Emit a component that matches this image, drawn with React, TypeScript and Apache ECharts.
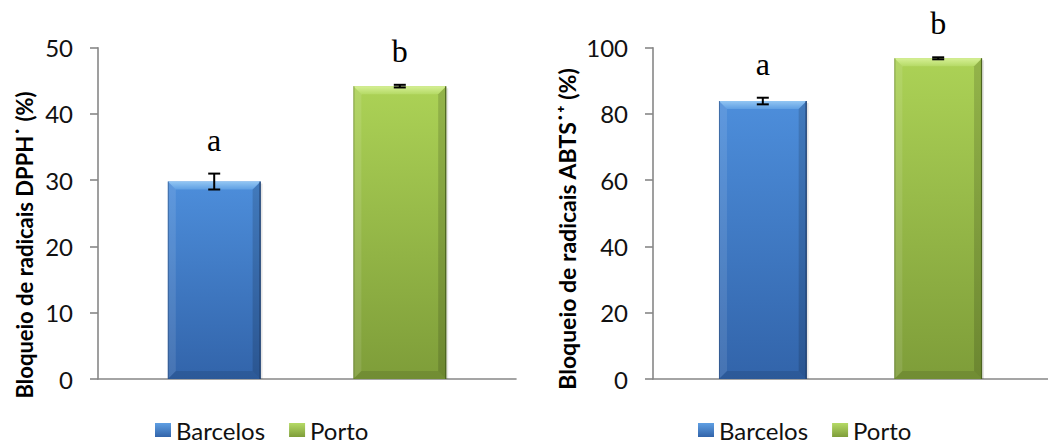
import React, { useEffect, useRef } from "react";
import * as echarts from "echarts";

// Sample origins (legend / series)
const groups = ["Barcelos", "Porto"];

// DPPH radical scavenging (%), mean and standard deviation
const dpphMean = [29.8, 44.2];
const dpphErr = [1.2, 0.2];
const dpphLetters = ["a", "b"];

// ABTS radical scavenging (%), mean and standard deviation
const abtsMean = [83.9, 96.8];
const abtsErr = [1.0, 0.3];
const abtsLetters = ["a", "b"];

// Value axis settings
const dpphAxis = { min: 0, max: 50, interval: 10 };
const abtsAxis = { min: 0, max: 100, interval: 20 };

const SANS = "Lato, 'Noto Sans', sans-serif";
const SERIF = "'Liberation Serif', 'DejaVu Serif', serif";

// Bevelled bar palettes
const palettes = [
  {
    top: "#4d8edb",
    bottom: "#3264aa",
    bevelTop: "#93c6f3",
    bevelTop2: "#5f9fe3",
    edge: "#1e3d6b",
  },
  {
    top: "#acd256",
    bottom: "#7e9d39",
    bevelTop: "#d6f095",
    bevelTop2: "#b5da66",
    edge: "#4c6420",
  },
];

const grad = (a: string, b: string) =>
  new echarts.graphic.LinearGradient(0, 0, 0, 1, [
    { offset: 0, color: a },
    { offset: 1, color: b },
  ]);

// Bar position inside the single category band, as a share of the band
const BAR_SHARE = 0.222;

function makeRenderItem(slot: number, pal: (typeof palettes)[number], letter: string) {
  return (params: any, api: any) => {
    const v = api.value(1);
    const err = api.value(2);
    const base = api.coord([0, 0]);
    const top = api.coord([0, v]);
    const hi = api.coord([0, v + err]);
    const lo = api.coord([0, v - err]);
    const band = api.size([1, 0])[0];
    const w = band * BAR_SHARE;
    const cx = base[0] + slot * band * BAR_SHARE;
    const x0 = cx - w / 2;
    const x1 = cx + w / 2;
    const yt = top[1];
    const yb = base[1];
    const d = 8;
    const cap = 6;
    return {
      type: "group",
      children: [
        {
          type: "rect",
          shape: { x: x0 + 2, y: yt + 2, width: w, height: yb - yt - 2 },
          style: { fill: "rgba(0,0,0,0.10)" },
        },
        {
          type: "rect",
          shape: { x: x0, y: yt, width: w, height: yb - yt },
          style: { fill: grad(pal.top, pal.bottom) },
        },
        {
          type: "polygon",
          shape: { points: [[x0, yt], [x1, yt], [x1 - d, yt + d], [x0 + d, yt + d]] },
          style: { fill: grad(pal.bevelTop, pal.bevelTop2) },
        },
        {
          type: "polygon",
          shape: { points: [[x0, yt], [x0 + d, yt + d], [x0 + d, yb - d], [x0, yb]] },
          style: { fill: "rgba(255,255,255,0.10)" },
        },
        {
          type: "polygon",
          shape: { points: [[x1, yt], [x1 - d, yt + d], [x1 - d, yb - d], [x1, yb]] },
          style: { fill: "rgba(0,0,0,0.14)" },
        },
        {
          type: "polygon",
          shape: { points: [[x0, yb], [x0 + d, yb - d], [x1 - d, yb - d], [x1, yb]] },
          style: { fill: "rgba(0,0,0,0.10)" },
        },
        {
          type: "line",
          shape: { x1: x0 + 0.5, y1: yt, x2: x0 + 0.5, y2: yb },
          style: { stroke: pal.edge, lineWidth: 0.8, opacity: 0.6 },
        },
        {
          type: "line",
          shape: { x1: x1 - 0.5, y1: yt, x2: x1 - 0.5, y2: yb },
          style: { stroke: pal.edge, lineWidth: 1.2 },
        },
        // error bar
        {
          type: "line",
          shape: { x1: cx, y1: hi[1], x2: cx, y2: lo[1] },
          style: { stroke: "#000", lineWidth: 2 },
        },
        {
          type: "line",
          shape: { x1: cx - cap, y1: hi[1], x2: cx + cap, y2: hi[1] },
          style: { stroke: "#000", lineWidth: 2 },
        },
        {
          type: "line",
          shape: { x1: cx - cap, y1: lo[1], x2: cx + cap, y2: lo[1] },
          style: { stroke: "#000", lineWidth: 2 },
        },
        // significance letter
        {
          type: "text",
          x: cx,
          y: hi[1] - 18,
          style: {
            text: letter,
            font: `32px ${SERIF}`,
            fill: "#000",
            align: "center",
            verticalAlign: "bottom",
          },
        },
      ],
    };
  };
}

function panelSeries(
  gridIndex: number,
  means: number[],
  errs: number[],
  letters: string[]
) {
  return groups.map((name, i) => ({
    type: "custom",
    name,
    xAxisIndex: gridIndex,
    yAxisIndex: gridIndex,
    itemStyle: { color: grad(palettes[i].bevelTop2, palettes[i].bottom) },
    renderItem: makeRenderItem(i === 0 ? -1 : 1, palettes[i], letters[i]),
    encode: { x: 0, y: [1, 2] },
    data: [[0, means[i], errs[i]]],
    clip: false,
  }));
}

const axisGrey = "#878787";

function xAxisFor(gridIndex: number) {
  return {
    type: "category",
    gridIndex,
    data: [""],
    axisLine: { show: true, lineStyle: { color: axisGrey, width: 1.6 } },
    axisTick: { show: false },
    axisLabel: { show: false },
    splitLine: { show: false },
  };
}

function yAxisFor(gridIndex: number, cfg: { min: number; max: number; interval: number }) {
  return {
    type: "value",
    gridIndex,
    min: cfg.min,
    max: cfg.max,
    interval: cfg.interval,
    axisLine: { show: true, lineStyle: { color: axisGrey, width: 1.6 } },
    axisTick: { show: true, inside: false, length: 8, lineStyle: { color: axisGrey, width: 1.6 } },
    axisLabel: { margin: 25, color: "#111", fontSize: 24, fontFamily: SANS },
    splitLine: { show: false },
  };
}

function legendFor(left: number) {
  return {
    left,
    top: 418,
    padding: 0,
    orient: "horizontal",
    itemWidth: 16,
    itemHeight: 14,
    itemGap: 24,
    icon: "rect",
    data: groups.map((g) => ({ name: g })),
    textStyle: { fontSize: 24, lineHeight: 22, fontFamily: SANS, color: "#111" },
    selectedMode: false,
  };
}

function axisTitle(x: number, y: number, text: string, size: number) {
  return {
    type: "text",
    x,
    y,
    rotation: Math.PI / 2,
    style: {
      text,
      font: `bold ${size}px ${SANS}`,
      fill: "#000",
      align: "center",
      verticalAlign: "middle",
    },
  };
}

export default function App() {
  const ref = useRef<HTMLDivElement>(null);

  useEffect(() => {
    if (!ref.current) return;
    const chart = echarts.init(ref.current, undefined, { renderer: "svg" });
    chart.setOption({
      animation: false,
      backgroundColor: "#fff",
      grid: [
        { left: 98, top: 47.7, width: 418, height: 331.3, containLabel: false },
        { left: 653, top: 47.7, width: 409, height: 331.3, containLabel: false },
      ],
      xAxis: [xAxisFor(0), xAxisFor(1)],
      yAxis: [yAxisFor(0, dpphAxis), yAxisFor(1, abtsAxis)],
      legend: [legendFor(155), legendFor(698)],
      series: [
        ...panelSeries(0, dpphMean, dpphErr, dpphLetters),
        ...panelSeries(1, abtsMean, abtsErr, abtsLetters),
      ],
      graphic: [
        axisTitle(24, 245, "Bloqueio de radicais DPPH˙ (%)", 22),
        axisTitle(567, 229, "Bloqueio de radicais ABTS˙⁺ (%)", 23),
      ],
    });
    return () => chart.dispose();
  }, []);

  return (
    <div
      ref={ref}
      style={{ position: "fixed", left: 0, top: 0, width: 1048, height: 443 }}
    />
  );
}
